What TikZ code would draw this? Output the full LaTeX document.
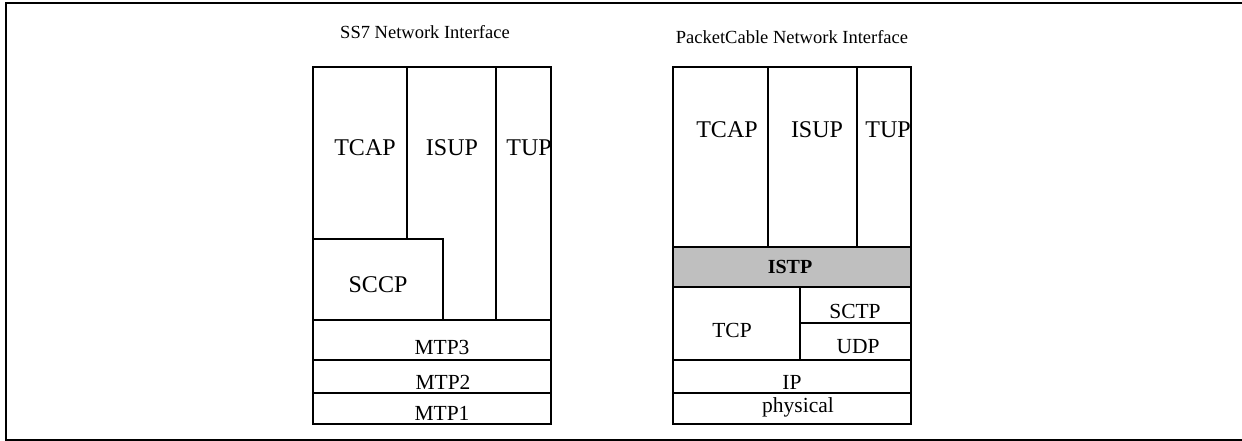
\documentclass[tikz,border=0pt]{standalone}
\usepackage{fontspec}
\setmainfont{Liberation Serif}
\usetikzlibrary{positioning}
\tikzset{upper/.style={font=\fontsize{24}{24}\selectfont}}
\tikzset{lower/.style={font=\fontsize{21.5}{22}\selectfont}}
\tikzset{caption/.style={font=\fontsize{18.5}{19}\selectfont}}

\begin{document}
\begin{tikzpicture}[x=1pt,y=-1pt,line width=1.2pt]
\useasboundingbox (0,0) rectangle (1242,441);

% Frame
\draw[line width=2pt] (1242,3) -- (6,3) -- (6,440) -- (1242,440);

% SS7 stack
\node[caption] (ss7title) at (425,32) {SS7 Network Interface};
\draw (313,67) rectangle (551,424);
\draw (407,67) -- (407,239);
\draw (496,67) -- (496,320);
\draw (313,239) -- (443,239) -- (443,320);
\draw (313,320) -- (551,320);
\draw (313,360) -- (551,360);
\draw (313,393) -- (551,393);

\node[upper] (ss7tcap) at (365,148) {TCAP};
\node[upper] (ss7isup) at (452,148) {ISUP};
\node[upper] (ss7tup) at (529,148) {TUP};
\node[upper] (ss7sccp) at (378,285) {SCCP};
\node[lower] (ss7mtp3) at (442,347) {MTP3};
\node[lower] (ss7mtp2) at (443,382) {MTP2};
\node[lower] (ss7mtp1) at (442,413) {MTP1};

% PacketCable stack
\node[caption] (pctitle) at (792,37) {PacketCable Network Interface};
\draw (673,67) rectangle (911,424);
\draw (768,67) -- (768,247);
\draw (857,67) -- (857,247);
\draw[fill=gray!50,line width=1.6pt] (673,247) rectangle (911,287);
\draw (800,287) -- (800,360);
\draw (800,323) -- (911,323);
\draw (673,360) -- (911,360);
\draw (673,393) -- (911,393);

\node[upper] (pctcap) at (727,130) {TCAP};
\node[upper] (pcisup) at (817,130) {ISUP};
\node[upper] (pctup) at (888,130) {TUP};
\node[lower,font=\fontsize{20}{20}\selectfont\bfseries] (pcistp) at (790,267) {ISTP};
\node[lower] (pctcp) at (732,330) {TCP};
\node[lower] (pcsctp) at (855,311) {SCTP};
\node[lower] (pcudp) at (858,347) {UDP};
\node[lower] (pcip) at (792,382) {IP};
\node[lower] (pcphys) at (798,407) {physical};

\end{tikzpicture}
\end{document}
